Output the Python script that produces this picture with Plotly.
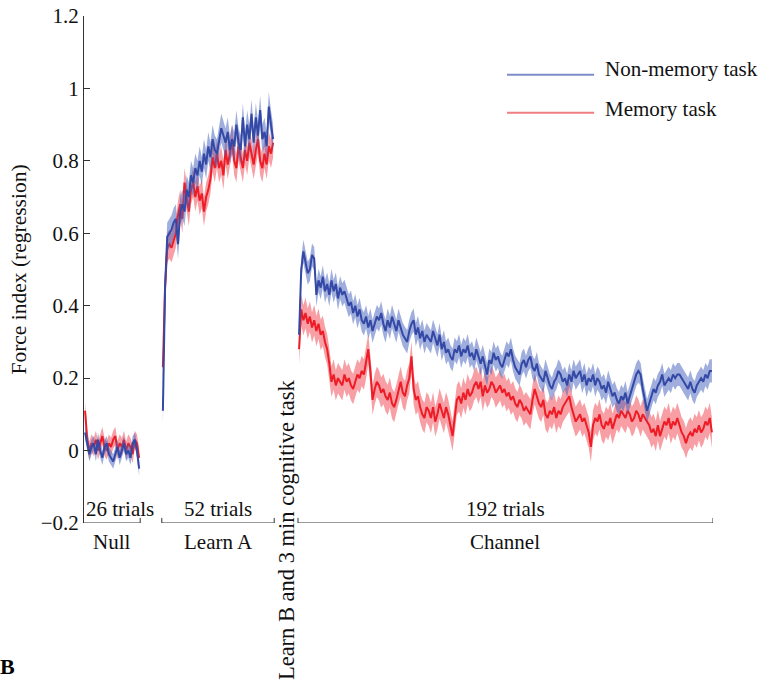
import plotly.graph_objects as go

# ---------------- data ----------------
phases = ["Null", "Learn A", "Channel"]
trial_labels = ["26 trials", "52 trials", "192 trials"]
legend_names = ["Non-memory task", "Memory task"]

blue_null = [0.05, 0.02, -0.01, 0.01, 0.02, -0.01, 0.03, 0.0, -0.02, 0.01, 0.02, -0.01, -0.02,
             -0.03, -0.01, 0.01, -0.02, 0.0, 0.02, -0.01, 0.0, -0.02, 0.02, 0.03, 0.0, -0.05]
red_null = [0.11, 0.03, 0.0, 0.02, 0.01, 0.03, 0.0, 0.02, 0.04, 0.01, 0.0, 0.02, 0.01,
            0.03, 0.04, 0.0, 0.02, 0.01, 0.03, 0.0, 0.02, 0.01, -0.01, 0.03, 0.02, -0.02]

blue_learnA = [0.11, 0.45, 0.59, 0.60, 0.61, 0.63, 0.64, 0.57, 0.66, 0.68,
               0.66, 0.72, 0.70, 0.76, 0.74, 0.78, 0.76, 0.80, 0.77, 0.82,
               0.79, 0.84, 0.81, 0.86, 0.83, 0.82, 0.86, 0.89, 0.87, 0.85,
               0.88, 0.83, 0.86, 0.84, 0.90, 0.85, 0.83, 0.92, 0.84, 0.90,
               0.86, 0.93, 0.85, 0.92, 0.87, 0.94, 0.86, 0.88, 0.84, 0.95,
               0.90, 0.86]
red_learnA = [0.23, 0.45, 0.56, 0.57, 0.56, 0.58, 0.60, 0.65, 0.68, 0.64,
              0.74, 0.70, 0.66, 0.72, 0.74, 0.70, 0.73, 0.69, 0.71, 0.66,
              0.70, 0.72, 0.75, 0.81, 0.78, 0.82, 0.78, 0.80, 0.76, 0.83,
              0.79, 0.82, 0.86, 0.80, 0.78, 0.84, 0.81, 0.78, 0.83, 0.80,
              0.85, 0.82, 0.79, 0.83, 0.86, 0.80, 0.78, 0.82, 0.79, 0.84,
              0.82, 0.85]

blue_channel = [
    0.32, 0.50, 0.55, 0.52, 0.49, 0.50, 0.54, 0.53, 0.43, 0.47,
    0.45, 0.48, 0.44, 0.46, 0.43, 0.47, 0.44, 0.46, 0.42, 0.45,
    0.43, 0.44, 0.42, 0.40, 0.41, 0.38, 0.40, 0.37, 0.39, 0.36,
    0.35, 0.37, 0.34, 0.36, 0.33, 0.35, 0.37, 0.36, 0.38, 0.35,
    0.33, 0.36, 0.34, 0.37, 0.35, 0.33, 0.36, 0.34, 0.32, 0.31,
    0.30, 0.33, 0.35, 0.36, 0.32, 0.34, 0.31, 0.33, 0.30, 0.32,
    0.31, 0.30, 0.33, 0.31, 0.29, 0.32, 0.28, 0.30, 0.27, 0.28,
    0.26, 0.25, 0.28, 0.27, 0.29, 0.26, 0.28, 0.27, 0.29, 0.26,
    0.27, 0.25, 0.28, 0.26, 0.24, 0.26, 0.23, 0.21, 0.25, 0.24,
    0.27, 0.25, 0.26, 0.24, 0.23, 0.25, 0.27, 0.26, 0.28, 0.25,
    0.23, 0.22, 0.21, 0.24, 0.25, 0.23, 0.25, 0.26, 0.23, 0.22,
    0.24, 0.21, 0.20, 0.19, 0.22, 0.20, 0.18, 0.17, 0.19, 0.20,
    0.22, 0.21, 0.19, 0.20, 0.18, 0.21, 0.19, 0.22, 0.20, 0.21,
    0.22, 0.19, 0.21, 0.18, 0.20, 0.19, 0.21, 0.18, 0.20, 0.19,
    0.17, 0.18, 0.16, 0.19, 0.17, 0.15, 0.16, 0.14, 0.13, 0.15,
    0.14, 0.16, 0.13, 0.15, 0.17, 0.19, 0.21, 0.22, 0.21, 0.17,
    0.14, 0.11, 0.13, 0.15, 0.17, 0.16, 0.18, 0.19, 0.21, 0.18,
    0.19, 0.20, 0.19, 0.21, 0.20, 0.21, 0.21, 0.20, 0.19, 0.18,
    0.17, 0.19, 0.17, 0.16, 0.18, 0.19, 0.20, 0.19, 0.21, 0.20,
    0.22, 0.22]
red_channel = [
    0.28, 0.39, 0.36, 0.38, 0.35, 0.37, 0.34, 0.36, 0.33, 0.35,
    0.32, 0.33, 0.30, 0.28, 0.24, 0.19, 0.21, 0.18, 0.20, 0.19,
    0.18, 0.21, 0.19, 0.20, 0.18, 0.17, 0.19, 0.21, 0.20, 0.22,
    0.21, 0.24, 0.28, 0.22, 0.14, 0.17, 0.19, 0.18, 0.16, 0.17,
    0.15, 0.14, 0.16, 0.13, 0.12, 0.14, 0.17, 0.19, 0.16, 0.15,
    0.18, 0.20, 0.26, 0.17, 0.14, 0.15, 0.12, 0.10, 0.09, 0.12,
    0.11, 0.09, 0.12, 0.08, 0.10, 0.13, 0.11, 0.09, 0.12, 0.10,
    0.07, 0.04, 0.09, 0.14, 0.15, 0.13, 0.16, 0.14, 0.17, 0.15,
    0.16, 0.18, 0.19, 0.17, 0.19, 0.15, 0.18, 0.16, 0.17, 0.19,
    0.18, 0.16, 0.17, 0.18, 0.16, 0.17, 0.15, 0.16, 0.14, 0.15,
    0.13, 0.12, 0.14, 0.13, 0.11, 0.12, 0.11, 0.10, 0.14, 0.17,
    0.15, 0.13, 0.12, 0.14, 0.10, 0.09, 0.11, 0.10, 0.12, 0.09,
    0.11, 0.10, 0.12, 0.13, 0.14, 0.15, 0.12, 0.10, 0.08, 0.09,
    0.10, 0.08, 0.09, 0.07, 0.05, 0.01, 0.07, 0.09, 0.08, 0.10,
    0.07, 0.06, 0.08, 0.07, 0.09, 0.06, 0.08, 0.10, 0.09, 0.11,
    0.10, 0.09, 0.11, 0.10, 0.08, 0.09, 0.11, 0.10, 0.08, 0.10,
    0.09, 0.08, 0.07, 0.05, 0.06, 0.04, 0.07, 0.04, 0.06, 0.08,
    0.07, 0.09, 0.06, 0.08, 0.07, 0.09, 0.07, 0.05, 0.04, 0.02,
    0.04, 0.05, 0.04, 0.06, 0.05, 0.07, 0.05, 0.06, 0.08, 0.07,
    0.09, 0.05]

# standard error per phase (Null, Learn A, Channel)
blue_sem = [0.02, 0.04, 0.032]
red_sem = [0.025, 0.04, 0.042]

y_ticks = [-0.2, 0, 0.2, 0.4, 0.6, 0.8, 1, 1.2]
y_tick_text = ["\u22120.2", "0", "0.2", "0.4", "0.6", "0.8", "1", "1.2"]

# ---------------- layout constants ----------------
phase_start = [1, 37, 100]          # x of first trial of each phase
FONT = "Liberation Serif, Times New Roman, serif"
BLUE = "#3448a6"
RED = "#ee1c27"
BLUE_BAND = "rgba(70,100,190,0.52)"
RED_BAND = "rgba(240,70,80,0.52)"
BLUE_LEG = "#7e8ccb"
RED_LEG = "#f07d82"

W, H = 765, 685
ML, MR, MT, MB = 84, 52, 16, 162
XMIN, XMAX = 0.5, 291.5
YMIN, YMAX = -0.2, 1.2

fig = go.Figure()

blue_phases = [blue_null, blue_learnA, blue_channel]
red_phases = [red_null, red_learnA, red_channel]


def add_series(phase_vals, sems, line_col, band_col):
    for vals, se, x0 in zip(phase_vals, sems, phase_start):
        xs = [x0 + i for i in range(len(vals))]
        up = [v + se for v in vals]
        lo = [v - se for v in vals]
        fig.add_trace(go.Scatter(x=xs + xs[::-1], y=up + lo[::-1], fill="toself",
                                 fillcolor=band_col, line=dict(width=0),
                                 mode="lines", hoverinfo="skip", showlegend=False))
    for vals, x0 in zip(phase_vals, phase_start):
        xs = [x0 + i for i in range(len(vals))]
        fig.add_trace(go.Scatter(x=xs, y=vals, mode="lines",
                                 line=dict(color=line_col, width=2),
                                 showlegend=False))


add_series(red_phases, red_sem, RED, RED_BAND)
add_series(blue_phases, blue_sem, BLUE, BLUE_BAND)

# brackets and phase labels
shapes = []
annotations = []
tick_h = 0.014
for k, (name, lab) in enumerate(zip(phases, trial_labels)):
    n = len(blue_phases[k])
    xa = phase_start[k] - 0.5
    xb = phase_start[k] + n - 0.5
    if k == 0:
        xa = XMIN
    shapes.append(dict(type="line", xref="x", yref="y", x0=xa, x1=xb, y0=YMIN, y1=YMIN,
                       line=dict(color="#333", width=1)))
    shapes.append(dict(type="line", xref="x", yref="y", x0=xb, x1=xb, y0=YMIN, y1=YMIN + tick_h,
                       line=dict(color="#333", width=1)))
    if k > 0:
        shapes.append(dict(type="line", xref="x", yref="y", x0=xa, x1=xa, y0=YMIN, y1=YMIN + tick_h,
                           line=dict(color="#333", width=1)))
    mid = (xa + xb) / 2
    if k == 0:
        annotations.append(dict(x=xa, y=YMIN, xref="x", yref="y", text=lab, showarrow=False,
                                xanchor="left", yanchor="bottom", yshift=0,
                                font=dict(family=FONT, size=21, color="#111")))
    else:
        annotations.append(dict(x=mid, y=YMIN, xref="x", yref="y", text=lab, showarrow=False,
                                xanchor="center", yanchor="bottom", yshift=0,
                                font=dict(family=FONT, size=21, color="#111")))
    annotations.append(dict(x=mid, y=YMIN, xref="x", yref="y", text=name, showarrow=False,
                            xanchor="center", yanchor="top", yshift=-5,
                            font=dict(family=FONT, size=21, color="#111")))

# vertical label between Learn A and Channel
gap_mid = (phase_start[1] + len(blue_learnA) - 0.5 + phase_start[2] - 0.5) / 2
annotations.append(dict(x=gap_mid, y=YMIN, xref="x", yref="y",
                        text="Learn B and 3 min cognitive task", textangle=-90,
                        showarrow=False, xanchor="center", yanchor="middle", yshift=-7,
                        font=dict(family=FONT, size=22.5, color="#111")))

# legend (drawn manually)
leg_line_y = [0.884, 0.809]
leg_text_y = [0.895, 0.817]
for name, col, ly, ty in zip(legend_names, [BLUE_LEG, RED_LEG], leg_line_y, leg_text_y):
    shapes.append(dict(type="line", xref="paper", yref="paper", x0=0.6725, x1=0.811,
                       y0=ly, y1=ly, line=dict(color=col, width=2)))
    annotations.append(dict(x=0.825, y=ty, xref="paper", yref="paper", text=name,
                            showarrow=False, xanchor="left", yanchor="middle",
                            font=dict(family=FONT, size=21, color="#111")))

# panel letter
annotations.append(dict(x=-0.1065, y=-0.284, xref="paper", yref="paper", text="<b>B</b>",
                        showarrow=False, xanchor="right", yanchor="middle",
                        font=dict(family=FONT, size=22, color="#000")))

fig.update_layout(
    width=W, height=H,
    margin=dict(l=ML, r=MR, t=MT, b=MB, autoexpand=False),
    paper_bgcolor="white", plot_bgcolor="white",
    showlegend=False,
    shapes=shapes, annotations=annotations,
    xaxis=dict(range=[XMIN, XMAX], visible=False, showgrid=False, zeroline=False,
               automargin=False),
    yaxis=dict(range=[YMIN, YMAX], tickvals=y_ticks, ticktext=y_tick_text,
               ticks="inside", ticklen=6, tickcolor="#333", showline=True,
               linecolor="#333", linewidth=1, showgrid=False, zeroline=False,
               automargin=False,
               tickfont=dict(family=FONT, size=21, color="#111"),
               title=dict(text="Force index (regression)", standoff=8,
                          font=dict(family=FONT, size=21.5, color="#111"))),
)

fig.write_html("out.html")
